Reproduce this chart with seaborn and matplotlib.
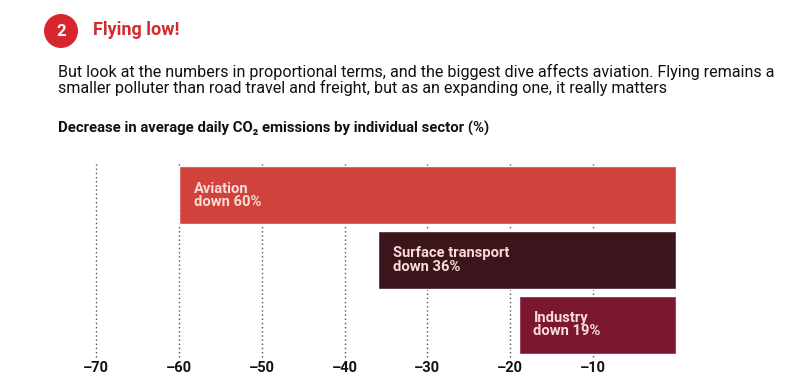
import matplotlib
matplotlib.use("Agg")
import matplotlib.pyplot as plt
import seaborn as sns
import pandas as pd
from matplotlib.patches import Ellipse

sectors = ["Aviation", "Surface transport", "Industry"]
values = [-60, -36, -19]
labels = ["Aviation\ndown 60%", "Surface transport\ndown 36%", "Industry\ndown 19%"]
colors = ["#cf433c", "#3c141c", "#7c1732"]
ticks = [-70, -60, -50, -40, -30, -20, -10]
tick_labels = ["\u201370", "\u201360", "\u201350", "\u201340", "\u201330", "\u201320", "\u201310"]

sns.set_theme(style="white")
FAM = ["Roboto", "DejaVu Sans"]
plt.rcParams["font.family"] = FAM

fig = plt.figure(figsize=(8.09, 3.91), dpi=100)
W, H = 809, 391
ax = fig.add_axes([96 / W, 1 - 357 / H, (676 - 96) / W, (357 - 163) / H])

df = pd.DataFrame({"sector": sectors, "value": values})
sns.barplot(data=df, x="value", y="sector", hue="sector", palette=colors,
            orient="h", width=0.9, legend=False, ax=ax, zorder=3, saturation=1)

ax.set_xlim(-70, 0)
ax.set_ylim(2.5, -0.5)
for t in ticks:
    ax.axvline(t, color="#555555", lw=1.0, ls=(0, (1, 2)), zorder=1, clip_on=False)
ax.axvline(0, color="#444444", lw=0.8, zorder=4)

for i, (v, lab) in enumerate(zip(values, labels)):
    ax.text(v + 1.8, i, lab, color="#f7dcd8", fontsize=10.6, fontweight="bold",
            va="center", ha="left", linespacing=0.95, zorder=5)

for s in ax.spines.values():
    s.set_visible(False)
ax.set_xticks(ticks)
ax.set_xticklabels(tick_labels, fontsize=10.5, fontweight="bold", color="#111111")
ax.tick_params(axis="x", length=0, pad=3)
ax.set_yticks([])
ax.set_xlabel("")
ax.set_ylabel("")
ax.grid(False)

# header
circ = Ellipse((61 / W, 1 - 31 / H), 34 / W, 34 / H, transform=fig.transFigure,
               facecolor="#d8262f", edgecolor="none", zorder=1)
fig.patches.append(circ)
fig.text(61 / W, 1 - 31 / H, "2", color="white", fontsize=12, fontweight="bold",
         ha="center", va="center", zorder=10)
fig.text(93 / W, 1 - 30 / H, "Flying low!", color="#d42a2e", fontsize=13,
         fontweight="bold", ha="left", va="center")
fig.text(58 / W, 1 - 80 / H,
         "But look at the numbers in proportional terms, and the biggest dive affects aviation. Flying remains a\n"
         "smaller polluter than road travel and freight, but as an expanding one, it really matters",
         fontsize=11.6, color="#111111", ha="left", va="center", linespacing=1.0)
fig.text(58 / W, 1 - 128 / H,
         "Decrease in average daily CO\u2082 emissions by individual sector (%)",
         fontsize=10.7, fontweight="bold", color="#111111", ha="left", va="center")

fig.savefig("out.png", dpi=100, facecolor="white")
